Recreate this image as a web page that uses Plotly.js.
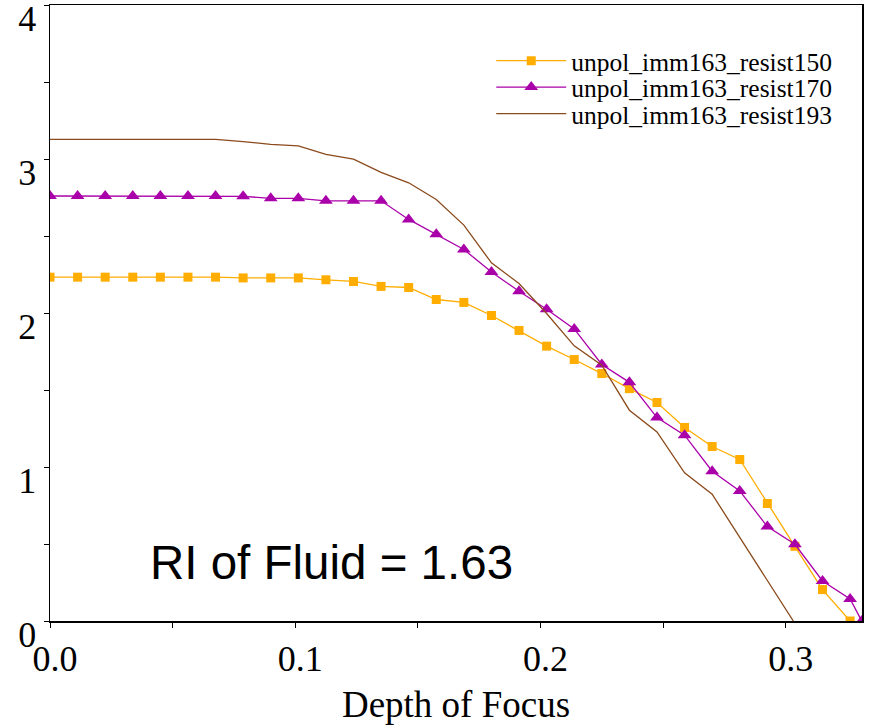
<!DOCTYPE html>
<html>
<head>
<meta charset="utf-8">
<script src="https://cdn.plot.ly/plotly-3.0.1.min.js"></script>
<style>html,body{margin:0;padding:0;background:#fff;}#chart{width:874px;height:727px;}</style>
</head>
<body>
<div id="chart"></div>
<script>
// Depth of focus values (x) and series values (y)
const xStep = [0.0, 0.01125, 0.0225, 0.03375, 0.045, 0.05625, 0.0675, 0.07875, 0.09, 0.10125,
  0.1125, 0.12375, 0.135, 0.14625, 0.1575, 0.16875, 0.18, 0.19125, 0.2025, 0.21375,
  0.225, 0.23625, 0.2475, 0.25875, 0.27, 0.28125, 0.2925, 0.30375, 0.315, 0.32625];

const resist150Y = [2.233, 2.233, 2.233, 2.233, 2.233, 2.233, 2.233, 2.228, 2.228, 2.228,
  2.216, 2.205, 2.173, 2.166, 2.088, 2.069, 1.984, 1.887, 1.785, 1.698,
  1.607, 1.509, 1.419, 1.257, 1.133, 1.049, 0.763, 0.485, 0.204, 0.0];

const resist170X = xStep.concat([0.331]);
const resist170Y = [2.760, 2.760, 2.760, 2.760, 2.760, 2.760, 2.760, 2.758, 2.745, 2.745,
  2.729, 2.729, 2.729, 2.608, 2.511, 2.413, 2.266, 2.142, 2.025, 1.897,
  1.666, 1.550, 1.321, 1.207, 0.973, 0.845, 0.613, 0.498, 0.260, 0.143, 0.0];

const resist193X = xStep.slice(0, 27).concat([0.3031]);
const resist193Y = [3.128, 3.128, 3.128, 3.128, 3.128, 3.128, 3.128, 3.113, 3.096, 3.085,
  3.030, 3.000, 2.913, 2.846, 2.738, 2.571, 2.326, 2.192, 1.997, 1.787,
  1.661, 1.369, 1.228, 0.962, 0.823, 0.543, 0.260, 0.0];

const yTickVals = [0, 1, 2, 3, 4];
const yTickText = ["0", "1", "2", "3", "4"];
const xTickVals = [0, 0.1, 0.2, 0.3];
const xTickText = ["0.0", "0.1", "0.2", "0.3"];

const seriesNames = ["unpol_imm163_resist150", "unpol_imm163_resist170", "unpol_imm163_resist193"];
const annotationText = "RI of Fluid = 1.63";
const xTitle = "Depth of Focus";

const serif = "Liberation Serif, Times New Roman, serif";
const legFont = {family: serif, size: 25.5, color: "#000"};

const traces = [
  {x: xStep, y: resist150Y, name: seriesNames[0], type: "scatter", mode: "lines+markers",
   line: {color: "#FFAD00", width: 1.3}, marker: {symbol: "square", size: 9, color: "#FFAD00"},
   legend: "legend"},
  {x: resist170X, y: resist170Y, name: seriesNames[1], type: "scatter", mode: "lines+markers",
   line: {color: "#AA00AA", width: 1.3}, marker: {symbol: "triangle-up", size: 12, color: "#AA00AA"},
   legend: "legend2"},
  {x: resist193X, y: resist193Y, name: seriesNames[2], type: "scatter", mode: "lines",
   line: {color: "#8B4A1C", width: 1.3}, legend: "legend3"}
];

function leg(y) {
  return {x: 0.5434, xanchor: "left", y: y, yanchor: "middle", font: legFont,
          bgcolor: "rgba(0,0,0,0)", borderwidth: 0, itemwidth: 70};
}

const layout = {
  width: 874, height: 727,
  margin: {l: 49.5, r: 12, t: 5, b: 106.3},
  paper_bgcolor: "#fff", plot_bgcolor: "#fff",
  showlegend: true,
  legend: leg(0.909), legend2: leg(0.866), legend3: leg(0.823),
  xaxis: {
    range: [0, 0.3311], tickmode: "array", tickvals: xTickVals, ticktext: xTickText,
    ticks: "outside", ticklen: 5, tickcolor: "#000", tickwidth: 1,
    minor: {tickmode: "linear", tick0: 0, dtick: 0.05, ticks: "outside", ticklen: 5, tickcolor: "#000", showgrid: false},
    showline: true, linecolor: "#000", linewidth: 1.5, mirror: true,
    showgrid: false, zeroline: false, ticklabelshift: 5, ticklabeloverflow: "allow",
    tickfont: {family: serif, size: 36, color: "#000"},
    title: {text: xTitle, font: {family: serif, size: 37, color: "#000"}, standoff: 13}
  },
  yaxis: {
    range: [0, 4.0005], tickmode: "array", tickvals: yTickVals, ticktext: yTickText,
    ticks: "outside", ticklen: 5, tickcolor: "#000", tickwidth: 1,
    minor: {tickmode: "linear", tick0: 0, dtick: 0.5, ticks: "outside", ticklen: 5, tickcolor: "#000", showgrid: false},
    showline: true, linecolor: "#000", linewidth: 1.5, mirror: true,
    showgrid: false, zeroline: false, ticklabelshift: 13, ticklabeloverflow: "allow",
    tickfont: {family: serif, size: 36, color: "#000"}
  },
  annotations: [{
    text: annotationText, xref: "paper", yref: "y", x: 0.3465, y: 0.38,
    xanchor: "center", yanchor: "middle", showarrow: false,
    font: {family: "Liberation Sans, Arial, sans-serif", size: 47.5, color: "#000"}
  }]
};

Plotly.newPlot("chart", traces, layout, {displayModeBar: false, staticPlot: true});
</script>
</body>
</html>
